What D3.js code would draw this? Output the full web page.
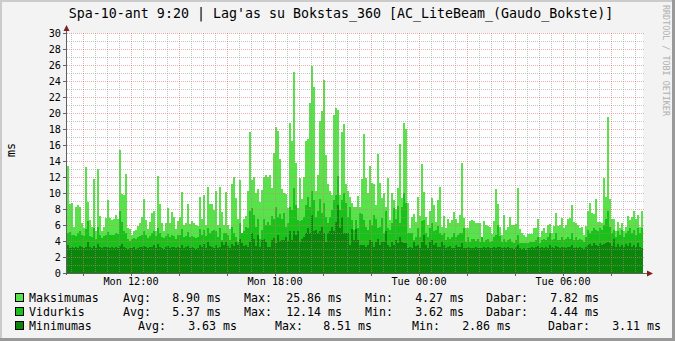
<!DOCTYPE html>
<html>
<head>
<meta charset="utf-8">
<script src="https://cdn.jsdelivr.net/npm/d3@7"></script>
<style>
  body { margin: 0; background: #f3f3f3; }
  svg text { font-family: "DejaVu Sans Mono", monospace; }
</style>
</head>
<body>
<div id="graph"></div>
<script>
// 5 minute samples, Mon 9:20 -> Tue 9:20 (ms)
const maksimumas = [
  13.4, 8.6, 8.7, 5.8, 8.3, 8.5, 8.2, 6.3, 5.6, 13.2,
  8.9, 6.6, 5.7, 11.7, 5.3, 13.0, 7.1, 5.2, 5.8, 6.9,
  9.1, 6.9, 6.6, 6.8, 7.3, 6.8, 15.4, 9.9, 9.7, 12.4,
  5.6, 5.5, 4.8, 5.2, 5.4, 5.9, 6.2, 7.0, 9.2, 6.6,
  5.5, 6.4, 7.5, 7.7, 5.3, 12.1, 8.6, 6.3, 5.3, 6.2,
  8.1, 6.2, 7.6, 7.0, 5.5, 6.5, 7.0, 10.1, 6.0, 6.2,
  8.6, 6.1, 6.5, 6.3, 6.0, 5.9, 9.5, 6.8, 9.7, 6.0,
  10.7, 8.6,
  8.6, 7.9, 10.2, 6.0, 10.8, 7.6, 6.0, 10.1, 6.0, 5.5,
  11.1, 12.0, 9.4, 6.8, 11.6, 5.0, 6.8, 7.1, 10.2, 17.6,
  11.6, 12.0, 10.0, 10.5, 8.9, 10.4, 12.0, 12.3, 12.0, 12.2,
  10.6, 15.0, 18.3, 17.7, 14.3, 10.5, 10.0, 9.9, 8.1, 18.7,
  16.5, 25.1, 13.7, 8.1, 11.9, 9.3, 12.0, 16.5, 16.7, 21.2,
  25.86, 23.2, 10.2, 12.2, 19.0, 20.2, 24.1, 14.8, 11.1, 10.3,
  9.8, 19.7, 20.6, 20.4, 9.8, 17.6, 18.6, 11.1, 10.2, 9.5,
  8.7, 8.3,
  8.3, 9.6, 8.3, 11.7, 17.4, 11.9, 10.0, 13.4, 11.3, 11.1,
  8.5, 14.9, 11.2, 9.4, 10.0, 8.3, 11.9, 6.6, 10.0, 9.1,
  8.0, 10.6, 16.1, 9.4, 18.8, 18.0, 8.7, 5.6, 7.0, 7.4,
  6.4, 9.5, 7.1, 13.6, 10.1, 7.0, 6.0, 7.8, 9.4, 8.5,
  6.4, 9.1, 10.8, 5.8, 7.1, 5.6, 6.8, 6.2, 6.6, 7.6,
  6.8, 6.2, 7.3, 13.7, 6.9, 5.6, 5.6, 6.5, 6.6, 6.5,
  6.2, 6.2, 6.3, 4.3, 6.5, 6.0, 5.9, 5.7, 4.9, 6.5,
  10.5, 8.6,
  5.8, 4.7, 7.3, 5.4, 5.8, 7.0, 6.0, 6.0, 6.1, 10.6,
  5.5, 5.0, 4.7, 4.5, 4.9, 4.9, 4.9, 5.6, 5.6, 6.7,
  4.5, 5.2, 5.6, 5.0, 6.0, 6.1, 5.0, 5.9, 7.5, 5.9,
  6.0, 6.9, 5.6, 6.0, 6.8, 6.9, 8.5, 6.4, 6.3, 6.0,
  5.6, 5.8, 4.8, 5.9, 7.8, 8.8, 7.5, 7.4, 9.2, 6.4,
  6.4, 6.3, 11.9, 9.5, 19.5, 9.2, 6.8, 6.8, 5.2, 6.4,
  5.6, 6.3, 5.3, 5.8, 7.1, 6.6, 7.0, 7.8, 6.7, 7.2,
  5.8, 7.8
];

const vidurkis = [
  5.0, 5.1, 4.7, 4.8, 4.6, 5.0, 5.2, 4.8, 4.6, 5.5,
  6.5, 4.6, 4.5, 5.6, 4.3, 5.8, 4.8, 4.4, 4.6, 4.7,
  5.1, 4.8, 4.7, 4.8, 5.0, 4.9, 7.8, 6.4, 5.2, 5.0,
  4.3, 4.0, 4.2, 4.4, 4.3, 4.5, 4.6, 4.8, 5.2, 4.8,
  4.4, 4.6, 5.0, 5.3, 4.6, 5.6, 5.0, 4.5, 4.4, 4.6,
  4.9, 4.5, 4.8, 4.6, 4.3, 4.7, 4.8, 5.5, 4.5, 4.6,
  5.1, 4.5, 4.6, 4.5, 4.4, 4.5, 5.5, 4.7, 5.4, 4.6,
  5.6, 5.0,
  5.2, 5.4, 5.25, 4.5, 5.6, 4.1, 5.0, 5.0, 4.7, 4.1,
  5.8, 5.0, 4.5, 3.9, 6.3, 5.0, 5.2, 5.8, 5.6, 7.8,
  8.1, 7.3, 5.8, 6.8, 4.3, 5.4, 6.8, 6.0, 6.4, 6.0,
  7.1, 6.7, 8.3, 7.0, 7.4, 6.7, 7.5, 5.8, 6.2, 8.3,
  7.9, 10.6, 8.5, 6.6, 6.5, 6.6, 7.0, 8.5, 9.5, 8.3,
  10.2, 9.1, 7.0, 7.7, 9.2, 7.5, 8.7, 7.0, 6.2, 7.0,
  7.9, 9.1, 9.8, 12.14, 7.9, 9.1, 10.0, 8.7, 7.0, 8.3,
  6.6, 5.4,
  6.6, 5.6, 7.5, 7.4, 6.6, 5.8, 5.4, 6.6, 6.0, 7.25,
  6.7, 5.6, 5.8, 6.9, 5.0, 7.7, 5.6, 5.4, 6.3, 8.1,
  6.7, 8.4, 6.2, 8.3, 10.0, 8.7, 5.0, 5.0, 5.0, 4.1,
  4.5, 5.6, 4.5, 6.5, 6.6, 5.0, 4.5, 5.6, 6.2, 5.2,
  5.4, 5.9, 5.0, 4.75, 5.0, 4.1, 4.5, 4.3, 4.5, 5.0,
  4.5, 4.75, 5.0, 5.0, 5.6, 3.9, 4.5, 3.9, 4.3, 4.3,
  4.0, 4.3, 3.9, 4.5, 3.9, 4.1, 4.3, 3.9, 4.0, 4.5,
  4.75, 6.0,
  4.6, 3.9, 4.3, 3.9, 4.1, 4.3, 3.9, 3.7, 4.1, 4.75,
  3.8, 3.8, 3.7, 3.7, 3.8, 3.9, 3.9, 3.9, 4.1, 4.5,
  3.8, 4.1, 4.3, 4.1, 4.5, 5.0, 4.1, 4.3, 5.0, 4.1,
  4.1, 4.5, 4.1, 4.3, 4.5, 4.3, 5.0, 4.1, 4.5, 4.1,
  4.3, 4.1, 3.9, 4.5, 5.4, 5.0, 5.2, 5.6, 5.4, 5.2,
  5.6, 5.4, 6.0, 6.8, 7.7, 5.8, 5.0, 5.4, 4.5, 5.2,
  4.75, 5.4, 4.5, 5.0, 5.2, 5.6, 5.0, 5.4, 4.75, 5.6,
  5.0, 5.6
];

const minimumas = [
  3.5, 3.1, 3.2, 3.1, 3.3, 3.1, 3.4, 3.2, 3.1, 3.3,
  3.9, 3.2, 3.1, 3.4, 3.1, 3.6, 3.2, 3.1, 3.2, 3.3,
  3.2, 3.1, 3.3, 3.1, 3.2, 3.1, 3.4, 3.6, 3.2, 3.1,
  3.0, 3.1, 3.1, 3.2, 3.0, 3.1, 3.3, 3.2, 3.4, 3.2,
  3.1, 3.2, 3.3, 3.5, 3.1, 3.6, 3.2, 3.1, 3.0, 3.2,
  3.4, 3.1, 3.3, 3.2, 3.1, 3.2, 3.1, 3.5, 3.1, 3.2,
  3.4, 3.1, 3.2, 3.1, 3.0, 3.1, 3.5, 3.2, 3.6, 3.1,
  3.9, 3.4,
  3.3, 3.1, 3.5, 3.1, 3.3, 3.9, 3.5, 3.9, 3.4, 3.1,
  3.6, 3.4, 3.9, 3.5, 4.25, 3.7, 3.4, 3.5, 3.3, 3.9,
  5.0, 4.3, 3.4, 4.7, 3.3, 4.1, 4.3, 3.9, 3.2, 3.3,
  4.1, 4.4, 3.8, 4.75, 4.0, 4.1, 4.1, 4.5, 4.0, 5.2,
  4.1, 5.2, 4.75, 5.2, 3.9, 4.3, 4.5, 5.0, 5.6, 5.0,
  7.25, 5.2, 5.4, 5.0, 5.3, 5.8, 5.0, 3.9, 5.0, 5.2,
  5.8, 5.2, 6.4, 8.51, 5.6, 7.0, 5.0, 5.0, 5.0, 3.5,
  5.5, 4.1,
  5.5, 4.1, 3.5, 3.5, 3.5, 3.3, 3.5, 4.1, 3.9, 3.3,
  3.9, 4.3, 3.5, 3.9, 3.9, 5.2, 3.5, 3.3, 3.9, 3.5,
  4.1, 3.7, 4.5, 3.9, 3.7, 3.8, 3.1, 3.2, 3.1, 3.9,
  3.4, 3.5, 3.1, 3.9, 4.75, 3.5, 3.1, 3.9, 4.1, 3.5,
  3.8, 3.2, 3.3, 3.9, 3.5, 3.1, 3.2, 3.4, 3.1, 3.1,
  3.5, 3.3, 3.3, 3.8, 3.1, 3.1, 3.2, 3.1, 3.1, 3.1,
  3.2, 3.1, 3.1, 3.1, 3.3, 3.1, 3.2, 3.1, 3.1, 3.3,
  3.1, 3.3,
  3.2, 3.1, 3.3, 3.1, 3.2, 3.1, 3.1, 3.0, 3.2, 3.5,
  3.1, 3.0, 3.1, 2.86, 3.1, 3.1, 3.2, 3.1, 3.3, 3.4,
  3.1, 3.2, 3.1, 3.3, 3.1, 3.5, 3.2, 3.1, 3.4, 3.2,
  3.1, 3.3, 3.2, 3.1, 3.3, 3.2, 3.5, 3.1, 3.3, 3.1,
  3.2, 3.1, 3.0, 3.2, 3.5, 3.6, 3.4, 3.7, 3.5, 3.4,
  3.8, 3.5, 3.6, 3.7, 3.9, 3.8, 3.4, 4.2, 3.3, 3.6,
  3.3, 3.5, 3.2, 3.6, 3.4, 3.8, 3.3, 3.5, 3.2, 3.7,
  3.3, 3.11
];

const seriesNames = ["Maksimumas", "Vidurkis", "Minimumas"];
const seriesAvg = ["8.90", "5.37", "3.63"];
const seriesMax = ["25.86", "12.14", "8.51"];
const seriesMin = ["4.27", "3.62", "2.86"];
const seriesNow = ["7.82", "4.44", "3.11"];
const yTickValues = [0, 2, 4, 6, 8, 10, 12, 14, 16, 18, 20, 22, 24, 26, 28, 30];

const titleText = "Spa-10-ant 9:20 | Lag'as su Bokstas_360 [AC_LiteBeam_(Gaudo_Bokste)]";
const startTime = new Date(2023, 9, 9, 9, 20);
const stepMs = 5 * 60 * 1000;

const colors = ["#59e34b", "#19c119", "#0b860b"];

var width = 675, height = 341;
var margin = { top: 33, left: 67, right: 643, bottom: 273 };

var svg = d3
  .select("#graph")
  .append("svg")
  .attr("width", width)
  .attr("height", height);

// background + rrdtool style shading
svg.append("rect").attr("width", width).attr("height", height).attr("fill", "#f3f3f3");
svg.append("rect").attr("x", 0).attr("y", 0).attr("width", width).attr("height", 2).attr("fill", "#cbcbcb");
svg.append("rect").attr("x", 0).attr("y", 0).attr("width", 2).attr("height", height).attr("fill", "#cbcbcb");
svg.append("rect").attr("x", width - 3).attr("y", 0).attr("width", 3).attr("height", height).attr("fill", "#999");
svg.append("rect").attr("x", 0).attr("y", height - 3).attr("width", width).attr("height", 3).attr("fill", "#999");

// scales
var endTime = new Date(startTime.getTime() + maksimumas.length * stepMs);
var xScale = d3.scaleTime().domain([startTime, endTime]).range([margin.left, margin.right]);
var yScale = d3.scaleLinear().domain([0, 30]).range([margin.bottom, margin.top]);

// white canvas
svg
  .append("rect")
  .attr("x", margin.left)
  .attr("y", margin.top)
  .attr("width", margin.right - margin.left)
  .attr("height", margin.bottom - margin.top)
  .attr("fill", "#fff");

// bars, max behind, min in front
var allSeries = [maksimumas, vidurkis, minimumas];
allSeries.forEach(function (values, s) {
  svg
    .append("g")
    .attr("shape-rendering", "crispEdges")
    .selectAll("rect")
    .data(values)
    .enter()
    .append("rect")
    .attr("x", function (d, i) { return xScale(new Date(startTime.getTime() + i * stepMs)); })
    .attr("width", function (d, i) {
      return xScale(new Date(startTime.getTime() + (i + 1) * stepMs)) - xScale(new Date(startTime.getTime() + i * stepMs));
    })
    .attr("y", function (d) { return yScale(d); })
    .attr("height", function (d) { return yScale(0) - yScale(d); })
    .attr("fill", colors[s]);
});

// grid on top of the data
var grid = svg.append("g").attr("shape-rendering", "crispEdges");
var minorColor = "rgba(150,150,150,0.55)", majorColor = "rgba(220,120,120,0.6)";

d3.range(1, 31).forEach(function (v) {
  grid
    .append("line")
    .attr("x1", margin.left)
    .attr("x2", margin.right + 2)
    .attr("y1", Math.round(yScale(v)) + 0.5)
    .attr("y2", Math.round(yScale(v)) + 0.5)
    .attr("stroke", v % 2 === 0 ? majorColor : minorColor)
    .attr("stroke-dasharray", "1,1");
});

xScale.ticks(d3.timeMinute.every(30)).forEach(function (t) {
  var major = t.getMinutes() === 0 && t.getHours() % 2 === 0;
  grid
    .append("line")
    .attr("x1", Math.round(xScale(t)) + 0.5)
    .attr("x2", Math.round(xScale(t)) + 0.5)
    .attr("y1", margin.top)
    .attr("y2", margin.bottom)
    .attr("stroke", major ? majorColor : minorColor)
    .attr("stroke-dasharray", "1,1");
});

// axes
var axisColor = "#606060", arrowColor = "#7f1f1f";
svg.append("line")
  .attr("x1", margin.left - 0.5).attr("x2", margin.left - 0.5)
  .attr("y1", margin.bottom + 2).attr("y2", 28)
  .attr("stroke", axisColor);
svg.append("line")
  .attr("x1", margin.left - 3).attr("x2", 650)
  .attr("y1", margin.bottom + 0.5).attr("y2", margin.bottom + 0.5)
  .attr("stroke", axisColor);
svg.append("path").attr("d", "M63.5,31 L69.5,31 L66.5,25 Z").attr("fill", arrowColor);
svg.append("path").attr("d", "M647,270.5 L647,276.5 L653,273.5 Z").attr("fill", arrowColor);

// y ticks and labels
yTickValues.forEach(function (v) {
  var y = Math.round(yScale(v)) + 0.5;
  svg.append("line")
    .attr("x1", margin.left - 4).attr("x2", margin.left)
    .attr("y1", y).attr("y2", y)
    .attr("stroke", axisColor);
  svg.append("text")
    .attr("x", 61)
    .attr("y", y + 3.5)
    .attr("text-anchor", "end")
    .attr("font-size", "10.2px")
    .attr("fill", "#000")
    .text(v);
});

// x labels every 6 hours
var fmt = d3.timeFormat("%a %H:%M");
xScale.ticks(d3.timeHour.every(6)).forEach(function (t) {
  svg.append("text")
    .attr("x", xScale(t))
    .attr("y", 285)
    .attr("text-anchor", "middle")
    .attr("font-size", "10.2px")
    .text(fmt(t));
});
xScale.ticks(d3.timeHour.every(2)).forEach(function (t) {
  var x = Math.round(xScale(t)) + 0.5;
  svg.append("line")
    .attr("x1", x).attr("x2", x)
    .attr("y1", margin.bottom).attr("y2", margin.bottom + 3)
    .attr("stroke", axisColor);
});

// title
svg.append("text")
  .attr("x", 341)
  .attr("y", 18)
  .attr("text-anchor", "middle")
  .attr("font-size", "13.3px")
  .text(titleText);

// y axis label
svg.append("text")
  .attr("transform", "translate(15,150) rotate(-90)")
  .attr("text-anchor", "middle")
  .attr("font-size", "11.6px")
  .text("ms");

// watermark
svg.append("text")
  .attr("transform", "translate(663,5) rotate(90)")
  .attr("font-size", "8.4px")
  .attr("fill", "#b0b0b0")
  .text("RRDTOOL / TOBI OETIKER");

// legend
var rowX = [
  [29, 123, 221, 244, 342, 365, 464, 486, 599],
  [29, 123, 221, 244, 342, 365, 464, 486, 599],
  [29, 138, 237, 275, 372, 412, 511, 548, 661]
];
seriesNames.forEach(function (name, s) {
  var base = 302 + s * 14;
  svg.append("rect")
    .attr("x", 15.5).attr("y", base - 8.5)
    .attr("width", 8).attr("height", 8)
    .attr("fill", colors[s])
    .attr("stroke", "#000");
  var parts = [name, "Avg:", seriesAvg[s] + " ms", "Max:", seriesMax[s] + " ms",
    "Min:", seriesMin[s] + " ms", "Dabar:", seriesNow[s] + " ms"];
  parts.forEach(function (p, k) {
    svg.append("text")
      .attr("x", rowX[s][k])
      .attr("y", base)
      .attr("text-anchor", k % 2 === 0 && k > 0 ? "end" : "start")
      .attr("font-size", "11.6px")
      .text(p);
  });
});
</script>
</body>
</html>
